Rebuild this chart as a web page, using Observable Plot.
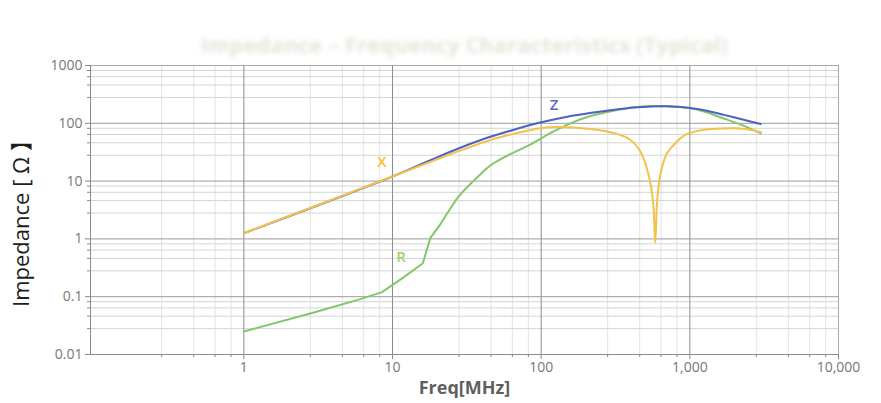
<!DOCTYPE html>
<html>
<head>
<meta charset="utf-8">
<script src="https://cdn.jsdelivr.net/npm/d3@7"></script>
<script src="https://cdn.jsdelivr.net/npm/@observablehq/plot@0.6"></script>
<style>
  html, body { margin: 0; padding: 0; background: #fff; }
  #chart { width: 881px; height: 403px; }
</style>
</head>
<body>
<div id="chart"></div>
<script>
// ---- data ----
const xFreq = [1, 10, 18, 28, 46, 64, 82, 100, 126, 180, 253, 327, 380, 423, 460, 494, 520, 550, 570, 585, 600, 612, 630, 660, 700, 750, 920, 1200, 1600, 2000, 2500, 3000];
const xVals = [1.25, 12, 21.5, 33, 52, 65, 75, 82, 86, 83, 75, 65, 56, 45, 34, 23, 15, 7.7, 3.5, 0.85, 3.8, 6.8, 12, 20, 30, 38, 62, 76, 81, 82, 78, 70];

const zFreq = [1, 10, 18, 28, 46, 64, 100, 150, 218, 300, 423, 550, 700, 980, 1300, 1700, 2300, 3000];
const zVals = [1.25, 12, 23, 37, 59, 76, 104, 130, 152, 170, 188, 196, 197, 185, 165, 140, 115, 97];

const rFreq = [1, 3, 6, 8.5, 12, 16, 18, 21, 24, 28, 35, 40, 46, 55, 64, 82, 100, 122, 160, 218, 300, 423, 550, 700, 980, 1300, 1600, 2200, 3000];
const rVals = [0.025, 0.054, 0.09, 0.12, 0.22, 0.38, 1.05, 1.8, 3.1, 5.5, 10, 14, 19, 25, 30.5, 41, 55, 73, 102, 135, 163, 190, 199, 197, 183, 155, 127, 95, 67];

const labelNames = ["Z", "X", "R"];
const labelFreq = [122, 8.5, 11.4];
const labelVals = [205, 21, 0.49];
const labelColors = ["#5a66cc", "#f5c22a", "#9fd46a"];

const xTicks = [1, 10, 100, 1000, 10000];
const xTickLabels = ["1", "10", "100", "1,000", "10,000"];
const yTicks = [0.01, 0.1, 1, 10, 100, 1000];
const yTickLabels = ["0.01", "0.1", "1", "10", "100", "1000"];
const minorSteps = [2.8, 4.6, 6.4, 8.2];
const xDecades = [0.1, 1, 10, 100, 1000];
const yDecades = [0.01, 0.1, 1, 10, 100];

const xAxisTitle = "Freq[MHz]";
const yAxisTitle = "Impedance [ Ω 】";
const titleText = "Impedance – Frequency Characteristics (Typical)";

// ---- derived tables ----
const xMinor = xDecades.flatMap(d => minorSteps.map(m => d * m));
const yMinor = yDecades.flatMap(d => minorSteps.map(m => d * m));
const xSeries = xFreq.map((f, i) => ({f, v: xVals[i]}));
const zSeries = zFreq.map((f, i) => ({f, v: zVals[i]}));
const rSeries = rFreq.map((f, i) => ({f, v: rVals[i]}));
const rLow = rSeries.filter(d => d.f <= 18);   // piecewise part with visible kinks
const rHigh = rSeries.filter(d => d.f >= 18);  // smooth part
const labels = labelNames.map((n, i) => ({n, f: labelFreq[i], v: labelVals[i], c: labelColors[i]}));

const chart = Plot.plot({
  width: 881,
  height: 403,
  marginLeft: 90,
  marginRight: 43,
  marginTop: 65,
  marginBottom: 49,
  style: { fontFamily: "'Open Sans', 'Noto Sans', sans-serif", fontSize: "14px", background: "#fff", overflow: "visible" },
  x: { type: "log", domain: [0.093, 10000], label: null },
  y: { type: "log", domain: [0.01, 1000], label: null },
  marks: [
    // minor grid
    Plot.ruleX(xMinor, { stroke: "#e2e2e2", strokeWidth: 1 }),
    Plot.ruleY(yMinor, { stroke: "#d4d4d4", strokeWidth: 1 }),
    // major grid
    Plot.ruleX(xTicks.slice(0, 4), { stroke: "#8c8c8c", strokeWidth: 1 }),
    Plot.ruleY(yTicks.slice(1, 5), { stroke: "#9a9a9a", strokeWidth: 1 }),
    // frame: top / right lighter, left / bottom axis lines
    Plot.ruleY([1000], { stroke: "#a8a8a8" }),
    Plot.ruleX([10000], { stroke: "#a8a8a8" }),
    Plot.ruleY([0.01], { stroke: "#8a8a8a" }),
    Plot.ruleX([0.093], { stroke: "#8a8a8a" }),
    // minor ticks
    Plot.axisX(xMinor, { tickSize: 3, tickFormat: () => "", stroke: "#8a8a8a", label: null }),
    Plot.axisY(yMinor, { tickSize: 3, tickFormat: () => "", stroke: "#8a8a8a", label: null }),
    // major ticks + labels
    Plot.axisX(xTicks, { tickSize: 5, tickPadding: 3, stroke: "#8a8a8a", fill: "#777", fontSize: 14,
      tickFormat: d => xTickLabels[xTicks.indexOf(d)], label: null }),
    Plot.axisY(yTicks, { tickSize: 5, tickPadding: 3, stroke: "#8a8a8a", fill: "#777", fontSize: 14,
      tickFormat: d => yTickLabels[yTicks.indexOf(d)], label: null }),
    // series
    Plot.line(rLow, { x: "f", y: "v", stroke: "#84c66c", strokeWidth: 2, curve: "linear" }),
    Plot.line(rHigh, { x: "f", y: "v", stroke: "#84c66c", strokeWidth: 2, curve: "catmull-rom" }),
    Plot.line(zSeries, { x: "f", y: "v", stroke: "#4e60c4", strokeWidth: 2, curve: "catmull-rom" }),
    Plot.line(xSeries, { x: "f", y: "v", stroke: "#f3c24a", strokeWidth: 2, curve: "catmull-rom" }),
    // series labels
    Plot.text(labels, { x: "f", y: "v", text: "n", fill: "c", fontSize: 15, fontWeight: 600,
      fontFamily: "'Open Sans', sans-serif" }),
    // axis titles
    Plot.text([xAxisTitle], { frameAnchor: "bottom", lineAnchor: "middle", dy: 34, text: d => d, fill: "#5f5f5f",
      fontSize: 18, fontWeight: "bold" }),
    Plot.text([yAxisTitle], { frameAnchor: "left", textAnchor: "middle", lineAnchor: "middle", dx: -69, dy: 8, rotate: -90,
      text: d => d, fill: "#1e1e1e", fontSize: 22, fontFamily: "'Open Sans', 'Noto Sans CJK SC', sans-serif" }),
    // faint (blurred) title
    Plot.text([titleText], { frameAnchor: "top", lineAnchor: "middle", dy: -20, text: d => d, fill: "#e4e4da",
      fontSize: 22, fontWeight: "bold" })
  ]
});

// blur the faint title like the reference
chart.querySelectorAll("text").forEach(t => {
  if (t.textContent === titleText) t.style.filter = "blur(2.5px)";
});

document.getElementById("chart").appendChild(chart);
</script>
</body>
</html>
